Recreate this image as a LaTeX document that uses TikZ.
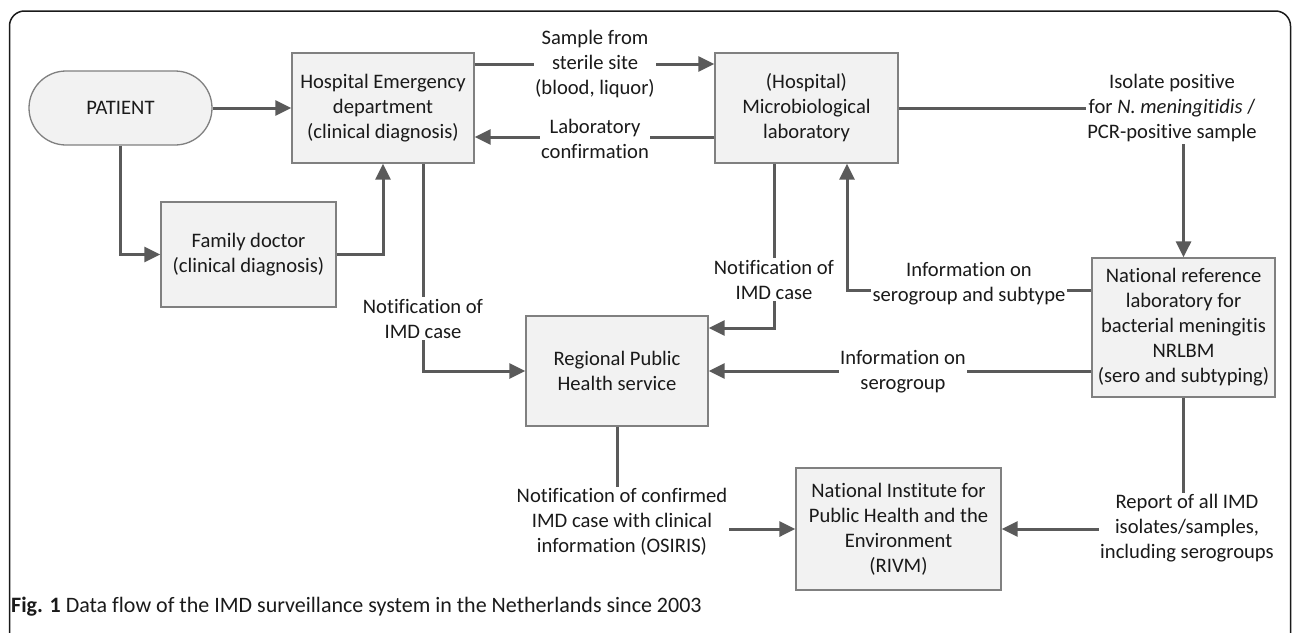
\documentclass[tikz,border=0pt]{standalone}
\usepackage{fontspec}
\setmainfont{Carlito}[Ligatures=NoCommon]
\usetikzlibrary{arrows.meta,calc}
\definecolor{boxfill}{HTML}{F2F2F2}
\definecolor{boxline}{HTML}{808080}
\definecolor{arrcol}{HTML}{5A5A5A}
\definecolor{txtcol}{HTML}{1A1A1A}
\definecolor{framecol}{HTML}{1A1A1A}
\newcommand\diagfont{\fontsize{20.6}{25}\selectfont}
\begin{document}
\begin{tikzpicture}[x=1pt,y=-1pt,
  box/.style={draw=boxline,fill=boxfill,line width=1.3pt,align=center,text=txtcol,inner sep=0pt,font=\diagfont},
  lbl/.style={fill=white,align=center,text=txtcol,inner sep=1.5pt,font=\diagfont},
  arr/.style={draw=arrcol,line width=3pt,-{Triangle[length=16pt,width=15pt]}}
]
\useasboundingbox (0,0) rectangle (1292,632);
\begin{scope}
\clip (0,0) rectangle (1292,632);
\draw[framecol,line width=1.5pt,rounded corners=15pt] (9.5,650) -- (9.5,11) -- (1290.5,11) -- (1290.5,650);
\end{scope}

% boxes
\node[box,minimum width=183pt,minimum height=74pt,rounded corners=37pt] (patient) at (120.5,108) {PATIENT};
\node[box,minimum width=182pt,minimum height=110pt] (hed) at (383,108) {Hospital Emergency\\department\\(clinical diagnosis)};
\node[box,minimum width=183pt,minimum height=110pt] (micro) at (806.5,108) {(Hospital)\\Microbiological\\laboratory};
\node[box,minimum width=175pt,minimum height=105pt] (fd) at (248.5,254.5) {Family doctor\\(clinical diagnosis)};
\node[box,minimum width=182pt,minimum height=110pt] (reg) at (617,371) {Regional Public\\Health service};
\node[box,minimum width=183pt,minimum height=139pt] (nrl) at (1183.5,327.5) {National reference\\laboratory for\\bacterial meningitis\\NRLBM\\(sero and subtyping)};
\node[box,minimum width=205pt,minimum height=122pt] (rivm) at (898.5,529) {National Institute for\\Public Health and the\\Environment\\(RIVM)};

% connectors
\draw[arr] (patient.east) -- (hed.west);
\draw[arr] (patient.south) |- (fd.west);
\draw[arr] (fd.east) -| (hed.south);
\draw[arr] ([xshift=40pt]hed.south) |- (reg.west);
\draw[arr] ([yshift=44pt]hed.east) -- ([yshift=44pt]micro.west);
\draw[arr] ([yshift=-29pt]micro.west) -- ([yshift=-29pt]hed.east);
\draw[arr] (micro.east) -| (nrl.north);
\draw[arr] ([xshift=-32.5pt]micro.south) |- ([yshift=43pt]reg.east);
\draw[arr] ([yshift=37.5pt]nrl.west) -| ([xshift=40.5pt]micro.south);
\draw[arr] ([yshift=-43.5pt]nrl.west) -- (reg.east);
\draw[arr] (reg.south) |- (rivm.west);
\draw[arr] (nrl.south) |- (rivm.east);

% labels
\node[lbl] (l1) at (423,318.5) {Notification of\\IMD case};
\node[lbl] (l2) at (595,64.5) {Sample from\\sterile site\\(blood, liquor)};
\node[lbl] (l3) at (595,138.5) {Laboratory\\confirmation};
\node[lbl] (l4) at (1172,108.5) {Isolate positive\\for \textit{N. meningitidis} /\\PCR-positive sample};
\node[lbl] (l5) at (774,279.5) {Notification of\\IMD case};
\node[lbl] (l6) at (969,284) {Information on\\serogroup and subtype};
\node[lbl] (l7) at (903,371.5) {Information on\\serogroup};
\node[lbl] (l8) at (622,522) {Notification of confirmed\\IMD case with clinical\\information (OSIRIS)};
\node[lbl] (l9) at (1187,528.5) {Report of all IMD\\isolates/samples,\\including serogroups};

% caption
\node[anchor=west,inner sep=0pt,font=\fontsize{22}{26}\selectfont,text=txtcol] (cap) at (11,607) {\textbf{Fig. 1} Data flow of the IMD surveillance system in the Netherlands since 2003};
\end{tikzpicture}
\end{document}
